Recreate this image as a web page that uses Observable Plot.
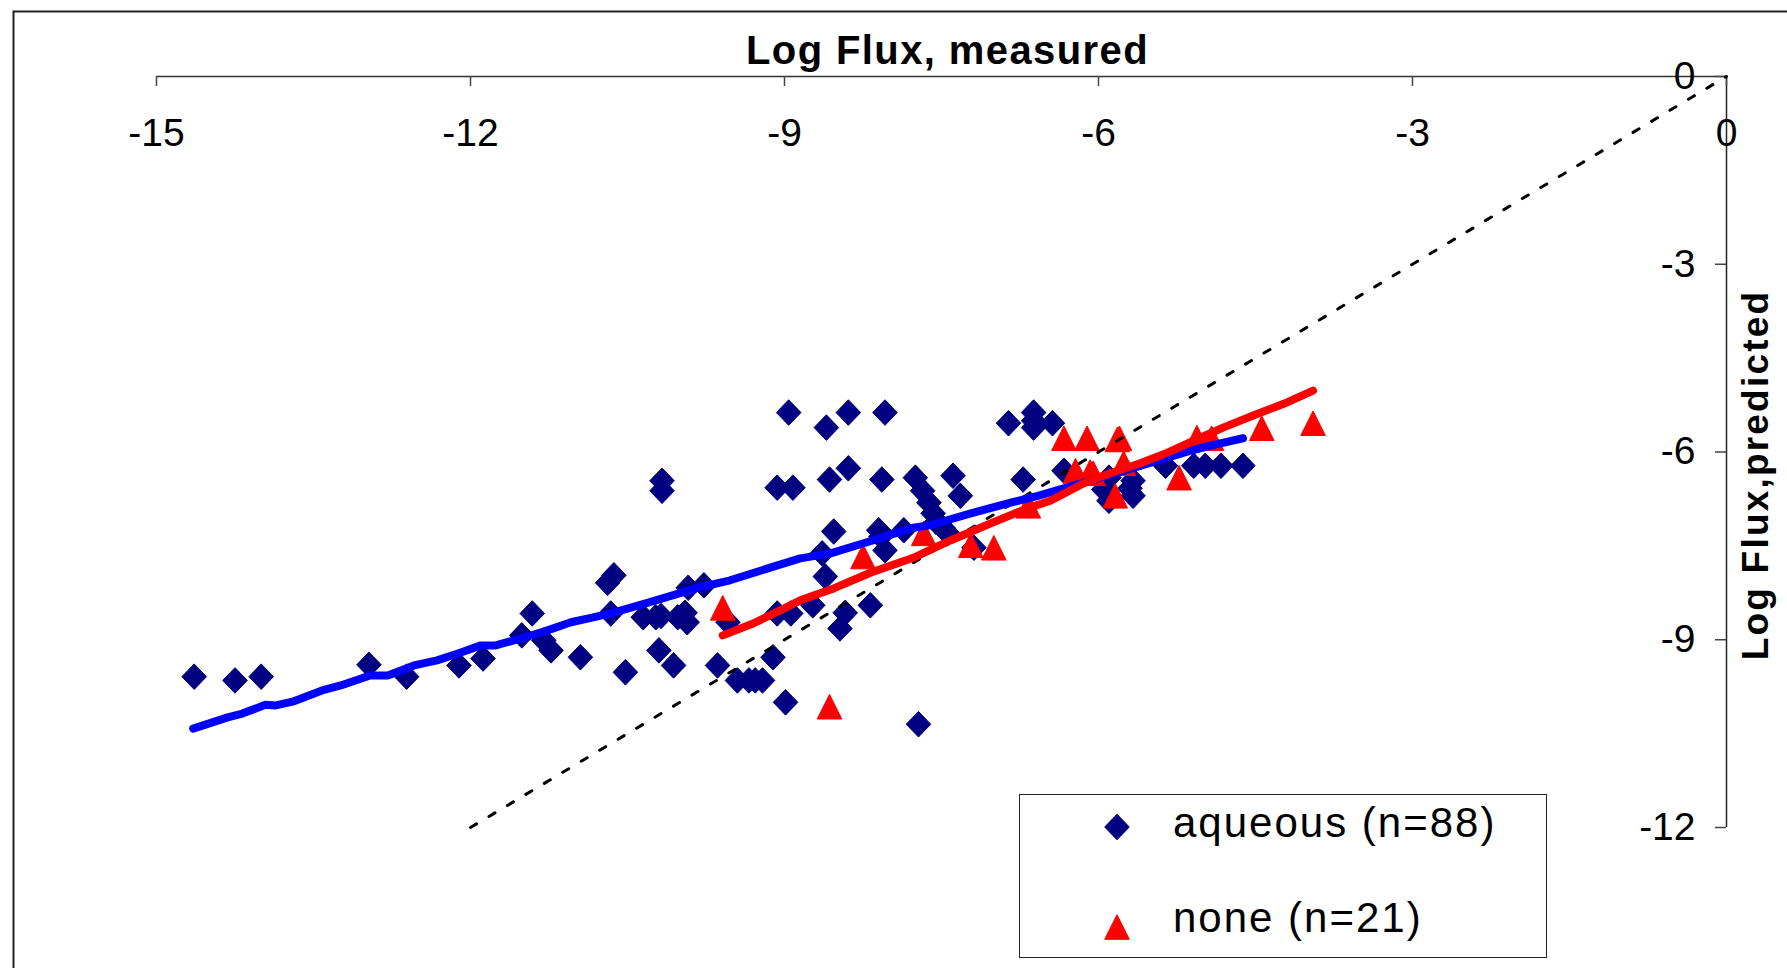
<!DOCTYPE html>
<html>
<head>
<meta charset="utf-8">
<script src="https://cdn.jsdelivr.net/npm/d3@7"></script>
<script src="https://cdn.jsdelivr.net/npm/@observablehq/plot@0.6"></script>
<style>
  html, body { margin: 0; padding: 0; background: #fff; overflow: hidden; }
  #wrap { position: relative; width: 1787px; height: 968px; font-family: "Liberation Sans", Arial, sans-serif; }
  #legend { position: absolute; left: 1019px; top: 794px; width: 528px; height: 164px; border: 1.5px solid #222; background: #fff; box-sizing: border-box; }
  #legend .sw { position: absolute; left: 83px; width: 28px; height: 28px; }
  #legend .lab { position: absolute; left: 153px; font-size: 42px; line-height: 42px; letter-spacing: 2px; color: #000; white-space: nowrap; font-family: "Liberation Sans", Arial, sans-serif; }
</style>
</head>
<body>
<div id="wrap"><div id="chart"></div><div id="legend"></div></div>
<script>
// ---- data ----
const xTitle = "Log Flux, measured";
const yTitle = "Log Flux,predicted";
const xTicks = [-15, -12, -9, -6, -3, 0];
const yTicks = [0, -3, -6, -9, -12];
const seriesNames = ["aqueous (n=88)", "none (n=21)"];

const aqueousX = [-14.64,-14.25,-14.00,-12.97,-12.61,-12.11,-11.88,-11.51,-11.41,-11.30,-11.23,-10.95,
  -10.69,-10.63,-10.66,-10.52,-10.35,-10.23,-10.20,-10.17,-10.17,-10.06,-10.02,-9.95,-9.93,-9.92,-9.77,
  -9.64,-9.54,-9.45,-9.34,-9.21,-9.11,-9.07,-8.94,-9.07,-8.92,-8.96,-8.99,-8.73,-8.64,-8.61,-8.60,-8.57,
  -8.53,-8.47,-8.42,-8.39,-8.39,-8.18,-8.10,-8.07,-8.04,-8.04,-7.86,-7.75,-7.72,-7.68,-7.62,-7.58,-7.44,
  -7.39,-7.32,-7.19,-6.86,-6.72,-6.62,-6.62,-6.44,-6.33,-5.90,-5.90,-5.67,-5.67,-5.36,-5.09,-4.98,-4.83,
  -4.62,-7.55,-7.48,-9.97,-10.18,-5.95,-6.62,-8.08,-9.28,-5.70];
const aqueousY = [-9.59,-9.65,-9.59,-9.40,-9.59,-9.41,-9.30,-8.93,-8.58,-9.01,-9.17,-9.28,
  -8.09,-7.97,-8.58,-9.52,-8.64,-8.64,-9.17,-6.46,-6.62,-9.41,-8.64,-8.57,-8.72,-8.17,-8.13,
  -9.41,-8.72,-9.65,-9.65,-9.65,-9.28,-8.58,-8.58,-6.57,-6.57,-5.37,-10.00,-8.45,-7.62,-7.99,-5.61,-6.44,
  -7.27,-8.82,-8.57,-6.26,-5.37,-8.45,-7.25,-6.44,-5.37,-7.57,-7.25,-6.41,-10.35,-6.62,-6.81,-6.98,-7.30,
  -6.38,-6.70,-7.53,-5.54,-6.44,-5.37,-5.61,-5.54,-6.30,-6.78,-6.41,-6.46,-6.70,-6.22,-6.22,-6.22,-6.22,
  -6.22,-7.12,-7.22,-8.60,-8.62,-6.60,-5.50,-7.35,-9.65,-6.58];

const noneX = [-9.59,-8.57,-8.25,-7.67,-7.22,-7.00,-6.67,-6.33,-6.11,-5.80,-6.22,-6.05,-5.76,-5.84,
  -5.23,-5.06,-4.92,-4.44,-3.95,-6.08,-5.82];
const noneY = [-8.49,-10.07,-7.67,-7.30,-7.49,-7.53,-6.86,-5.78,-5.78,-5.78,-6.30,-6.34,-6.18,-6.70,
  -6.41,-5.77,-5.78,-5.62,-5.54,-6.32,-5.80];

const aqueousTrendX = [-14.65,-14.32,-14.18,-13.96,-13.86,-13.70,-13.40,-13.24,-12.96,-12.79,-12.54,-12.32,
  -12.12,-11.90,-11.76,-11.52,-11.30,-11.04,-10.85,-10.66,-10.31,-9.83,-9.52,-9.16,-8.85,-8.56,-8.15,-7.77,
  -7.61,-7.22,-6.84,-6.58,-6.14,-5.82,-5.50,-5.12,-4.93,-4.62];
const aqueousTrendY = [-10.42,-10.24,-10.18,-10.04,-10.05,-9.99,-9.80,-9.73,-9.57,-9.57,-9.41,-9.33,
  -9.22,-9.09,-9.09,-8.98,-8.87,-8.72,-8.65,-8.58,-8.41,-8.17,-8.05,-7.86,-7.70,-7.62,-7.41,-7.21,
  -7.17,-6.98,-6.81,-6.70,-6.49,-6.33,-6.17,-5.98,-5.90,-5.78];

const noneTrendX = [-9.59,-9.30,-9.04,-8.85,-8.53,-8.18,-7.77,-7.41,-7.03,-6.68,-6.46,-6.14,-5.89,-5.60,
  -5.34,-5.09,-4.81,-4.48,-4.23,-3.95];
const noneTrendY = [-8.93,-8.74,-8.53,-8.37,-8.18,-7.93,-7.69,-7.41,-7.14,-6.90,-6.78,-6.50,-6.34,-6.18,
  -6.01,-5.82,-5.61,-5.39,-5.23,-5.02];

const identityEnds = [-12, 0];

// ---- tables ----
const zip = (xs, ys) => xs.map((x, i) => ({x, y: ys[i]}));
const aqueous = zip(aqueousX, aqueousY);
const none = zip(noneX, noneY);
const aqTrend = zip(aqueousTrendX, aqueousTrendY);
const noTrend = zip(noneTrendX, noneTrendY);
const identity = zip(identityEnds, identityEnds);

// ---- marker shapes ----
const diamond = {draw(ctx, size) { const r = Math.sqrt(size / Math.PI); ctx.moveTo(0, -r * 1.04); ctx.lineTo(r, 0); ctx.lineTo(0, r * 1.04); ctx.lineTo(-r, 0); ctx.closePath(); }};
const triangle = {draw(ctx, size) { const r = Math.sqrt(size / Math.PI); ctx.moveTo(0, -r); ctx.lineTo(r, r); ctx.lineTo(-r, r); ctx.closePath(); }};

const navy = "#000080", red = "#ff0000", blue = "#0000ff";

const chart = Plot.plot({
  width: 1787, height: 968,
  marginLeft: 156, marginRight: 61, marginTop: 76, marginBottom: 141,
  x: {domain: [-15, 0]},
  y: {domain: [-12, 0]},
  style: {fontFamily: '"Liberation Sans", Arial, sans-serif', background: "white", color: "black"},
  marks: [
    Plot.frame({stroke: "#222", strokeWidth: 2, insetLeft: -143, insetTop: -65, insetRight: -200, insetBottom: -300}),
    Plot.ruleY([0], {stroke: "#333", strokeWidth: 1.5}),
    Plot.ruleX([0], {stroke: "#222", strokeWidth: 1.5}),
    Plot.tickX(xTicks, {x: d => d, stroke: "#444", strokeWidth: 1.5, insetBottom: 741}),
    Plot.tickY(yTicks, {y: d => d, stroke: "#444", strokeWidth: 1.5, insetLeft: 1559}),
    Plot.axisX({ticks: xTicks, anchor: "top", tickSize: 0, tickPadding: 0, lineAnchor: "bottom", dy: 69, fontSize: 39, tickFormat: d => String(d), label: null}),
    Plot.axisY({ticks: yTicks, anchor: "right", tickSize: 0, tickPadding: 0, textAnchor: "end", dx: -31, fontSize: 39, tickFormat: d => String(d), label: null}),
    Plot.text([xTitle], {text: d => d, frameAnchor: "top", dx: 6, dy: -13, lineAnchor: "bottom", fontSize: 40, fontWeight: "bold"}),
    Plot.text([yTitle], {text: d => d, frameAnchor: "right", rotate: -90, dx: 30, dy: 23, lineAnchor: "middle", textAnchor: "middle", fontSize: 37, fontWeight: "bold"}),
    Plot.dot(aqueous, {x: "x", y: "y", symbol: diamond, r: 12.3, fill: navy, stroke: navy, strokeWidth: 1, strokeLinejoin: "round"}),
    Plot.dot(none, {x: "x", y: "y", symbol: triangle, r: 12.3, fill: red, stroke: red, strokeWidth: 1, strokeLinejoin: "round"}),
    Plot.line(identity, {x: "x", y: "y", stroke: "black", strokeWidth: 3, strokeDasharray: "7,14.5"}),
    Plot.line(aqTrend, {x: "x", y: "y", stroke: blue, strokeWidth: 8, strokeLinecap: "round", strokeLinejoin: "round"}),
    Plot.line(noTrend, {x: "x", y: "y", stroke: red, strokeWidth: 8, strokeLinecap: "round", strokeLinejoin: "round"})
  ]
});
document.getElementById("chart").appendChild(chart);

// letter spacing on the two axis titles
d3.select(chart).selectAll("text").filter(function() { return this.textContent === xTitle; }).attr("letter-spacing", "1.4px");
d3.select(chart).selectAll("text").filter(function() { return this.textContent === yTitle; }).attr("letter-spacing", "2.2px");

// ---- legend (HTML overlay) ----
const legend = d3.select("#legend");
const rows = [
  {name: seriesNames[0], color: navy, shape: diamond, cy: 32, top: 7},
  {name: seriesNames[1], color: red, shape: triangle, cy: 132, top: 102}
];
rows.forEach(r => {
  const sv = legend.append("svg").attr("class", "sw").attr("viewBox", "-14 -14 28 28")
    .style("top", (r.cy - 14) + "px");
  const p = d3.path();
  r.shape.draw(p, Math.PI * 12.3 * 12.3);
  sv.append("path").attr("d", p.toString()).attr("fill", r.color).attr("stroke", r.color).attr("stroke-linejoin", "round");
  legend.append("div").attr("class", "lab").style("top", r.top + "px").text(r.name);
});
</script>
</body>
</html>
